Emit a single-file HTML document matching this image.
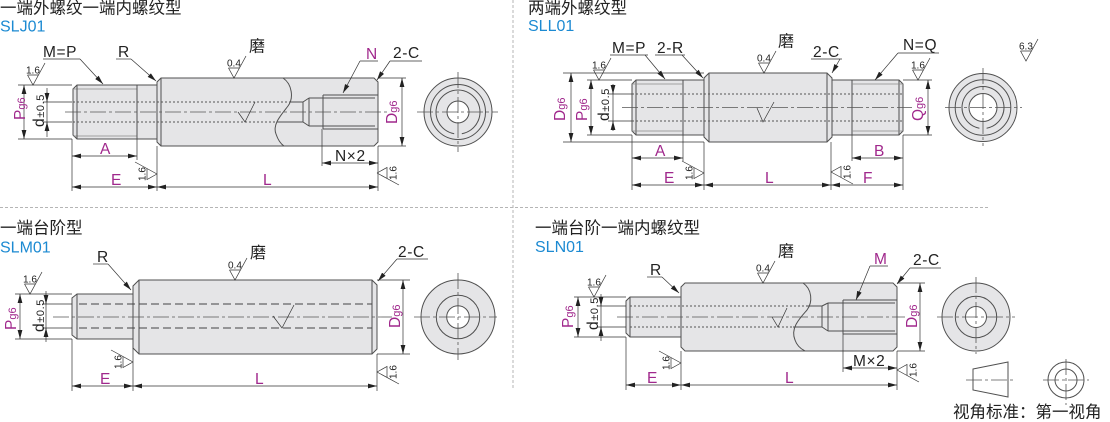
<!DOCTYPE html>
<html><head><meta charset="utf-8">
<style>
html,body{margin:0;padding:0;background:#fff;}
svg{display:block}
.o{fill:#e5e5e7;stroke:#505050;stroke-width:1}
.l{fill:none;stroke:#505050;stroke-width:1}
.w{fill:#fff;stroke:#505050;stroke-width:1}
.t{fill:none;stroke:#8a8a8a;stroke-width:0.8}
.d{fill:none;stroke:#333;stroke-width:0.7}
.ar{marker-start:url(#a);marker-end:url(#a)}
.ae{marker-end:url(#a)}
.c{fill:none;stroke:#555;stroke-width:0.8;stroke-dasharray:16 3 3 3}
.h{fill:none;stroke:#555;stroke-width:1;stroke-dasharray:2 2}
.hd{fill:none;stroke:#444;stroke-width:1;stroke-dasharray:8 4}
.sep{fill:none;stroke:#b5b5b5;stroke-width:1;stroke-dasharray:3 2}
text{font-family:"Liberation Sans","Noto Sans CJK SC",sans-serif}
.k{font-size:15.5px;fill:#222;letter-spacing:0.6px}
.m{font-size:15.5px;fill:#a0288c}
.s{font-size:10px;fill:#222}
.ti{font-size:16.5px;fill:#222}
.b{font-size:16px;fill:#1c8ad2}
</style></head><body>
<svg width="1110" height="422" viewBox="0 0 1110 422" xmlns="http://www.w3.org/2000/svg">
<defs>
<marker id="a" viewBox="0 0 9 6" refX="9" refY="3" markerWidth="9" markerHeight="6" markerUnits="userSpaceOnUse" orient="auto-start-reverse"><path d="M0,0.6 L9,3 L0,5.4z" fill="#222"/></marker>
</defs>

<!-- separators -->
<path class="sep" d="M513,0V388M0,207.5H990"/>

<!-- ============ SLJ01 ============ -->
<text class="ti" x="0" y="13.5">一端外螺纹一端内螺纹型</text>
<text class="b" x="0" y="31.5">SLJ01</text>
<path class="o" d="M77,85H158V139H77L73,135V89Z"/>
<path class="t" d="M73,89H137M73,136H137"/>
<path class="l" d="M137,85V139M77,85V139"/>
<path class="o" d="M161,78H374L378,82V142L374,146H161L157,142V82Z"/>
<path class="l" d="M161,78V146"/>
<path class="l" d="M283,78C292,84 294,98 288,106C282,114 272,124 276,134C278,140 281,144 284,146"/>
<path class="h" d="M73,102H290M73,122H277"/>
<path class="l" d="M290,102H303M277,122H303M303,102V122M303,102L309,98M303,122L309,126M309,98V126M309,98H375M309,126H375M323,95H378M323,129H378M323,95V129"/>
<path class="c" d="M65,112H388"/>
<path class="d" d="M238,112L245,122L255,102"/>
<!-- dims -->
<path class="d" d="M18,85H72M18,139H72M43,102H72M43,122H72M72,139V191M137,139V160M157,146V191M378,146V191M322,129V166M378,78H406M378,146H406M47,88V137"/>
<path class="d ar" d="M24,85V139"/>
<path class="d ar" d="M72,156H137"/>
<path class="d ar" d="M72,187H157"/>
<path class="d ar" d="M157,187H378"/>
<path class="d ar" d="M322,163H378"/>
<path class="d ar" d="M402,78V146"/>
<path class="d ae" d="M47,92V102"/>
<path class="d ae" d="M47,132V122"/>
<text class="m" transform="translate(25,120) rotate(-90)">P<tspan font-size="11">g6</tspan></text>
<text class="k" transform="translate(44,127) rotate(-90)">d<tspan font-size="11">±0.5</tspan></text>
<text class="m" x="100" y="154">A</text>
<text class="m" x="111" y="185">E</text>
<text class="m" x="263" y="185">L</text>
<text class="k" x="335" y="161">N×2</text>
<text class="m" transform="translate(397,124) rotate(-90)">D<tspan font-size="11">g6</tspan></text>
<text class="k" x="43" y="57">M=P</text>
<path class="d" d="M43,59H80"/><path class="d ae" d="M80,59L103,84"/>
<text class="k" x="118" y="57">R</text>
<path class="d" d="M116,59H131"/><path class="d ae" d="M131,59L156,81"/>
<text class="ti" x="249" y="51.5" style="font-size:16px">磨</text>
<text class="k" x="393" y="58">2-C</text>
<path class="d" d="M390,61H422"/><path class="d ae" d="M390,61L377,80"/>
<text class="m" x="366" y="59">N</text>
<path class="d" d="M360,61H378"/><path class="d ae" d="M360,61L343,93"/>
<g transform="translate(33,85)"><path class="d" d="M-5.5,-10H5.5M-5.5,-10L0,0L12,-22"/><text class="s" x="-7" y="-11.5">1.6</text></g>
<g transform="translate(234,78)"><path class="d" d="M-5.5,-10H5.5M-5.5,-10L0,0L12,-22"/><text class="s" x="-7" y="-11.5">0.4</text></g>
<g transform="translate(157,174)"><path class="d" d="M0,0L-10,5.5V-5.5M0,0L-22,-12"/><text class="s" transform="rotate(-90)" x="-7" y="-11.5">1.6</text></g>
<g transform="translate(377,173)"><path class="d" d="M0,0L10,-5.5V5.5M0,0L22,12"/><text class="s" transform="rotate(-90)" x="-7" y="19.5">1.6</text></g>
<!-- end view -->
<circle class="o" cx="458" cy="112" r="34"/>
<circle class="l" cx="458" cy="112" r="27.5"/>
<path class="l" d="M454.2,133.7A22,22 0 1 1 461.8,133.7"/>
<circle class="w" cx="458" cy="112" r="11"/>
<path class="c" d="M417,112H498M458,72V152"/>

<!-- ============ SLL01 ============ -->
<text class="ti" x="528" y="13.5">两端外螺纹型</text>
<text class="b" x="528" y="31">SLL01</text>
<path class="o" d="M636,80H705V135H636L632,131V84Z"/>
<path class="o" d="M831,80H899L903,84V131L899,135H831Z"/>
<path class="o" d="M709,73H827L832,78V137L827,142H709L704,137V78Z"/>
<path class="l" d="M636,80V135M683,80V135M709,73V142M827,73V142M852,80V135M899,80V135"/>
<path class="t" d="M632,84H683M632,131H683M852,84H903M852,131H903"/>
<path class="h" d="M632,94H903M632,121H903"/>
<path class="c" d="M622,107.5H912"/>
<path class="d" d="M757,108L763,122L774,102"/>
<path class="d" d="M563,73H704M563,142H704M587,80H632M587,135H632M608,94H632M608,121H632M632,135V190M683,135V161M704,142V190M831,142V190M852,135V161M903,135V190M903,80H932M903,135H932M613,84V131"/>
<path class="d ar" d="M571,73V142"/>
<path class="d ar" d="M591,80V135"/>
<path class="d ar" d="M632,158H683"/>
<path class="d ar" d="M852,158H903"/>
<path class="d ar" d="M632,185H704"/>
<path class="d ar" d="M704,185H831"/>
<path class="d ar" d="M831,185H903"/>
<path class="d ar" d="M928,80V135"/>
<path class="d ae" d="M613,85V94"/>
<path class="d ae" d="M613,130V121"/>
<text class="m" transform="translate(565,121) rotate(-90)">D<tspan font-size="11">g6</tspan></text>
<text class="m" transform="translate(587,121) rotate(-90)">P<tspan font-size="11">g6</tspan></text>
<text class="k" transform="translate(609,121) rotate(-90)">d<tspan font-size="11">±0.5</tspan></text>
<text class="m" transform="translate(923,121) rotate(-90)">Q<tspan font-size="11">g6</tspan></text>
<text class="m" x="655" y="156">A</text>
<text class="m" x="874" y="156">B</text>
<text class="m" x="664" y="183">E</text>
<text class="m" x="765" y="183">L</text>
<text class="m" x="863" y="183">F</text>
<text class="k" x="612" y="53">M=P</text>
<path class="d" d="M610,55H648"/><path class="d ae" d="M645,55L665,79"/>
<text class="k" x="657" y="53">2-R</text>
<path class="d" d="M655,55H685"/><path class="d ae" d="M682,55L703,78"/>
<text class="ti" x="778" y="46.5" style="font-size:16px">磨</text>
<text class="k" x="813" y="57">2-C</text>
<path class="d" d="M811,59H842"/><path class="d ae" d="M840,59L832,73"/>
<text class="k" x="903" y="50">N=Q</text>
<path class="d" d="M898,53H939"/><path class="d ae" d="M898,53L875,80"/>
<g transform="translate(599,80)"><path class="d" d="M-5.5,-10H5.5M-5.5,-10L0,0L12,-22"/><text class="s" x="-7" y="-11.5">1.6</text></g>
<g transform="translate(764,73)"><path class="d" d="M-5.5,-10H5.5M-5.5,-10L0,0L12,-22"/><text class="s" x="-7" y="-11.5">0.4</text></g>
<g transform="translate(918,80)"><path class="d" d="M-5.5,-10H5.5M-5.5,-10L0,0L12,-22"/><text class="s" x="-7" y="-11.5">1.6</text></g>
<g transform="translate(1026,61)"><path class="d" d="M-5.5,-10H5.5M-5.5,-10L0,0L12,-22"/><text class="s" x="-7" y="-11.5">6.3</text></g>
<g transform="translate(704,173)"><path class="d" d="M0,0L-10,5.5V-5.5M0,0L-22,-12"/><text class="s" transform="rotate(-90)" x="-7" y="-11.5">1.6</text></g>
<g transform="translate(831,172)"><path class="d" d="M0,0L10,-5.5V5.5M0,0L22,12"/><text class="s" transform="rotate(-90)" x="-7" y="19.5">1.6</text></g>
<circle class="o" cx="983" cy="107.5" r="34"/>
<circle class="l" cx="983" cy="107.5" r="27.8"/>
<path class="l" d="M979.4,128.2A21,21 0 1 1 986.6,128.2"/>
<circle class="w" cx="983" cy="107.5" r="14"/>
<path class="c" d="M945,107.5H1022M983,68V146"/>

<!-- ============ SLM01 ============ -->
<text class="ti" x="0" y="233.5">一端台阶型</text>
<text class="b" x="0" y="252.5">SLM01</text>
<path class="o" d="M77,294H134V339H77L72,335V298Z"/>
<path class="l" d="M77,294V339"/>
<path class="o" d="M139,280H372L377,285V349L372,354H139L133,348V286Z"/>
<path class="l" d="M139,280V354M372,280V354"/>
<path class="hd" d="M79,304H372M79,328H372"/>
<path class="c" d="M53,317H392"/>
<path class="d" d="M273,316L282,328L294,305"/>
<path class="d" d="M15,294H72M15,339H72M42,304H72M42,328H72M72,339V391M133,348V391M377,354V391M377,280H410M377,354H410M46,291V342"/>
<path class="d ar" d="M20,294V339"/>
<path class="d ar" d="M403,280V354"/>
<path class="d ar" d="M72,386H133"/>
<path class="d ar" d="M133,386H377"/>
<path class="d ae" d="M46,295V304"/>
<path class="d ae" d="M46,337V328"/>
<text class="m" transform="translate(16,330) rotate(-90)">P<tspan font-size="11">g6</tspan></text>
<text class="k" transform="translate(44,332) rotate(-90)">d<tspan font-size="11">±0.5</tspan></text>
<text class="m" transform="translate(400,328) rotate(-90)">D<tspan font-size="11">g6</tspan></text>
<text class="m" x="100" y="384">E</text>
<text class="m" x="255" y="384">L</text>
<text class="k" x="97" y="262">R</text>
<path class="d" d="M93,264H108"/><path class="d ae" d="M108,264L131,290"/>
<text class="ti" x="250" y="258" style="font-size:16px">磨</text>
<text class="k" x="398" y="257">2-C</text>
<path class="d" d="M397,259H428"/><path class="d ae" d="M397,259L378,281"/>
<g transform="translate(30,294)"><path class="d" d="M-5.5,-10H5.5M-5.5,-10L0,0L12,-22"/><text class="s" x="-7" y="-11.5">1.6</text></g>
<g transform="translate(235,280)"><path class="d" d="M-5.5,-10H5.5M-5.5,-10L0,0L12,-22"/><text class="s" x="-7" y="-11.5">0.4</text></g>
<g transform="translate(133,362)"><path class="d" d="M0,0L-10,5.5V-5.5M0,0L-22,-12"/><text class="s" transform="rotate(-90)" x="-7" y="-11.5">1.6</text></g>
<g transform="translate(377,372)"><path class="d" d="M0,0L10,-5.5V5.5M0,0L22,12"/><text class="s" transform="rotate(-90)" x="-7" y="19.5">1.6</text></g>
<circle class="o" cx="458" cy="317" r="37"/>
<circle class="l" cx="458" cy="317" r="21.7"/>
<circle class="w" cx="458" cy="317" r="11.3"/>
<path class="c" d="M414,317H497M458,273V360"/>

<!-- ============ SLN01 ============ -->
<text class="ti" x="535" y="233.5">一端台阶一端内螺纹型</text>
<text class="b" x="535" y="252">SLN01</text>
<path class="o" d="M630,297H682V337H630L626,333V301Z"/>
<path class="l" d="M630,297V337"/>
<path class="o" d="M685,283H893L897,287V347L893,351H685L681,347V287Z"/>
<path class="l" d="M803,283C812,289 813,302 807,310C800,318 790,328 795,340C797,346 801,349 805,351"/>
<path class="h" d="M630,306H806M630,327H793"/>
<path class="l" d="M806,306H822M793,327H822M822,306V327M822,306L828,303M822,327L828,331M828,303V331M828,303H895M828,331H895M843,300H897M843,334H897M843,300V334"/>
<path class="c" d="M617,317H905"/>
<path class="d" d="M772,317L778,327L787,308"/>
<path class="d" d="M574,297H626M574,337H626M597,306H626M597,327H626M626,337V390M681,351V390M897,351V390M843,334V372M897,283H925M897,351H925M601,294V341"/>
<path class="d ar" d="M578,297V337"/>
<path class="d ar" d="M920,283V351"/>
<path class="d ar" d="M843,368H897"/>
<path class="d ar" d="M626,385H681"/>
<path class="d ar" d="M681,385H897"/>
<path class="d ae" d="M601,297V306"/>
<path class="d ae" d="M601,336V327"/>
<text class="m" transform="translate(573,328) rotate(-90)">P<tspan font-size="11">g6</tspan></text>
<text class="k" transform="translate(598,330) rotate(-90)">d<tspan font-size="11">±0.5</tspan></text>
<text class="m" transform="translate(917,328) rotate(-90)">D<tspan font-size="11">g6</tspan></text>
<text class="m" x="647" y="383">E</text>
<text class="m" x="785" y="383">L</text>
<text class="k" x="853" y="366">M×2</text>
<text class="k" x="650" y="275">R</text>
<path class="d" d="M647,277H662"/><path class="d ae" d="M662,277L679,293"/>
<text class="ti" x="778" y="256.5" style="font-size:16px">磨</text>
<text class="m" x="874" y="264">M</text>
<path class="d" d="M870,266H888"/><path class="d ae" d="M870,266L856,300"/>
<text class="k" x="913" y="265">2-C</text>
<path class="d" d="M910,268H941"/><path class="d ae" d="M910,268L897,284"/>
<g transform="translate(594,297)"><path class="d" d="M-5.5,-10H5.5M-5.5,-10L0,0L12,-22"/><text class="s" x="-7" y="-11.5">1.6</text></g>
<g transform="translate(763,283)"><path class="d" d="M-5.5,-10H5.5M-5.5,-10L0,0L12,-22"/><text class="s" x="-7" y="-11.5">0.4</text></g>
<g transform="translate(681,363)"><path class="d" d="M0,0L-10,5.5V-5.5M0,0L-22,-12"/><text class="s" transform="rotate(-90)" x="-7" y="-11.5">1.6</text></g>
<g transform="translate(897,370)"><path class="d" d="M0,0L10,-5.5V5.5M0,0L22,12"/><text class="s" transform="rotate(-90)" x="-7" y="19.5">1.6</text></g>
<circle class="o" cx="976" cy="317" r="34"/>
<circle class="l" cx="976" cy="317" r="20.7"/>
<circle class="w" cx="976" cy="317" r="10.5"/>
<path class="c" d="M937,317H1015M976,277V354"/>

<!-- projection symbol -->
<path class="l" d="M973,369L1008,362V397L973,390Z"/>
<path class="c" d="M966,380H1014"/>
<circle class="l" cx="1066" cy="380" r="18"/>
<circle class="l" cx="1066" cy="380" r="11"/>
<path class="c" d="M1043,380H1089M1066,359V405"/>
<text class="ti" x="953" y="417.5">视角标准：第一视角</text>
</svg>
</body></html>
